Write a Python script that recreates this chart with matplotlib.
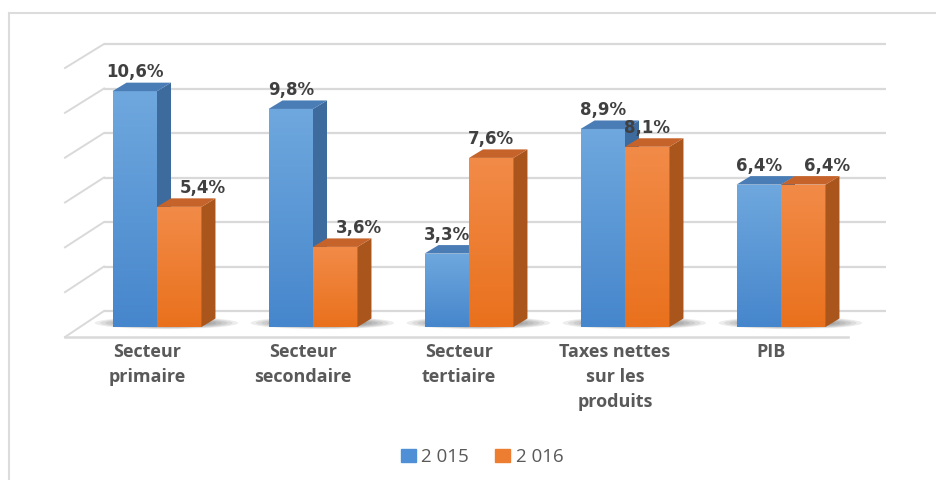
import matplotlib
matplotlib.use('Agg')
import matplotlib.pyplot as plt
import numpy as np
from matplotlib.patches import Polygon, Rectangle, Ellipse, Patch
from matplotlib.colors import LinearSegmentedColormap

# ---------------- data ----------------
categories = ["Secteur\nprimaire", "Secteur\nsecondaire", "Secteur\ntertiaire",
              "Taxes nettes\nsur les\nproduits", "PIB"]
values_2015 = [10.6, 9.8, 3.3, 8.9, 6.4]
values_2016 = [5.4, 3.6, 7.6, 8.1, 6.4]
series_names = ["2 015", "2 016"]
grid_values = [0, 2, 4, 6, 8, 10, 12]

# ---------------- layout / style ----------------
W, H = 936, 480
PX_X0, PX_DX = 157, 156          # pixel of category 0 centre, pixels per category
PX_Y0, PX_PER = 327, 22.25       # pixel of value 0 on bar plane, pixels per unit
BAR_W = 0.285
DX = 14 / PX_DX
DY = 8.5 / PX_PER
WALL_DY = 16 / PX_PER
WALL_XL_BACK = (104 - PX_X0) / PX_DX
WALL_XR = (886 - PX_X0) / PX_DX
WALL_XL_FRONT = (65 - PX_X0) / PX_DX
FLOOR_FRONT_Y = -10 / PX_PER
FLOOR_FRONT_XR = (848 - PX_X0) / PX_DX
LABEL_DY = 0.85
ORANGE_LABEL_SHIFT = [1, 1, 0, 0, 1]
SHIFT = 24 / PX_DX

colors = {
    0: dict(top_grad='#6fa8de', bot_grad='#4686cc', side='#3d6b9e', cap='#4a7db5', legend='#4f8fd6'),
    1: dict(top_grad='#f28b48', bot_grad='#e9711d', side='#a9551b', cap='#c5632a', legend='#ed7d31'),
}
grid_color = '#d9d9d9'
text_dark = '#404040'
text_gray = '#595959'

fig = plt.figure(figsize=(W / 100, H / 100), dpi=100)
ax = fig.add_axes([0, 0, 1, 1])
xlim = (-PX_X0 / PX_DX, (W - PX_X0) / PX_DX)
ylim = (-(H - PX_Y0) / PX_PER, PX_Y0 / PX_PER)
ax.axis('off')

# border
ax.add_patch(Rectangle((9 / W, -0.05), 1.2, 1 - 13 / H + 0.05, transform=ax.transAxes,
                       fill=False, edgecolor='#dcdcdc', lw=1.5, clip_on=False, zorder=0))

# walls / gridlines
for v in grid_values:
    yb = v + WALL_DY
    ax.plot([WALL_XL_BACK, WALL_XR], [yb, yb], color=grid_color, lw=1.6, zorder=1,
            solid_capstyle='butt')
    yf = FLOOR_FRONT_Y + v * 1.0075
    ax.plot([WALL_XL_FRONT, WALL_XL_BACK], [yf, yb], color=grid_color, lw=1.4, zorder=1)
ax.plot([WALL_XL_FRONT, FLOOR_FRONT_XR], [FLOOR_FRONT_Y, FLOOR_FRONT_Y], color=grid_color,
        lw=1.8, zorder=1)

# bars
n = len(categories)
for i in range(n):
    # floor shadow around the base of the pair
    for k in range(8):
        ax.add_patch(Ellipse((i + 0.06, 0.18), 0.92 - 0.07 * k, 0.55 - 0.045 * k,
                             color='black', alpha=0.07, lw=0, zorder=4))
    for s, vals in enumerate([values_2015, values_2016]):
        h = vals[i]
        c = colors[s]
        x0 = i - BAR_W if s == 0 else i
        x1 = x0 + BAR_W
        z = 10 + 4 * i + 2 * s
        bars = ax.bar(x0, h, width=BAR_W, align='edge', color=c['bot_grad'], lw=0, zorder=z)
        rect = bars[0]
        cmap = LinearSegmentedColormap.from_list('g', [c['bot_grad'], c['top_grad']])
        im = ax.imshow(np.linspace(0, 1, 100)[:, None], extent=(x0, x1, 0, h), origin='lower',
                       cmap=cmap, aspect='auto', zorder=z + 0.1, interpolation='bilinear')
        im.set_clip_path(rect)
        ax.add_patch(Polygon([(x1, 0), (x1 + DX, DY), (x1 + DX, h + DY), (x1, h)],
                             closed=True, color=c['side'], lw=0, zorder=z + 0.2))
        ax.add_patch(Polygon([(x0, h), (x1, h), (x1 + DX, h + DY), (x0 + DX, h + DY)],
                             closed=True, color=c['cap'], lw=0, zorder=z + 0.3))
        lab = f"{h:.1f}".replace('.', ',') + '%'
        xc = (x0 + x1) / 2 + (SHIFT if (s == 1 and ORANGE_LABEL_SHIFT[i]) else 0)
        ax.text(xc, h + LABEL_DY, lab, ha='center', va='center', fontsize=12,
                fontweight='bold', color=text_dark, family='DejaVu Sans', zorder=60)
    ax.text(i - 0.064, -0.72, categories[i], ha='center', va='top', fontsize=13,
            fontweight='bold', color=text_gray, family='Open Sans', linespacing=1.5,
            zorder=60)

ax.set_xlim(*xlim)
ax.set_ylim(*ylim)

handles = [Patch(color=colors[0]['legend']), Patch(color=colors[1]['legend'])]
fig.legend(handles, series_names, loc='center', bbox_to_anchor=(482 / W, 1 - 457 / H),
           ncol=2, frameon=False, handlelength=0.8, handleheight=0.65, handletextpad=0.3,
           columnspacing=1.4, labelcolor=text_gray,
           prop=dict(family='Open Sans', size=13.5))

fig.savefig('out.png', dpi=100)
